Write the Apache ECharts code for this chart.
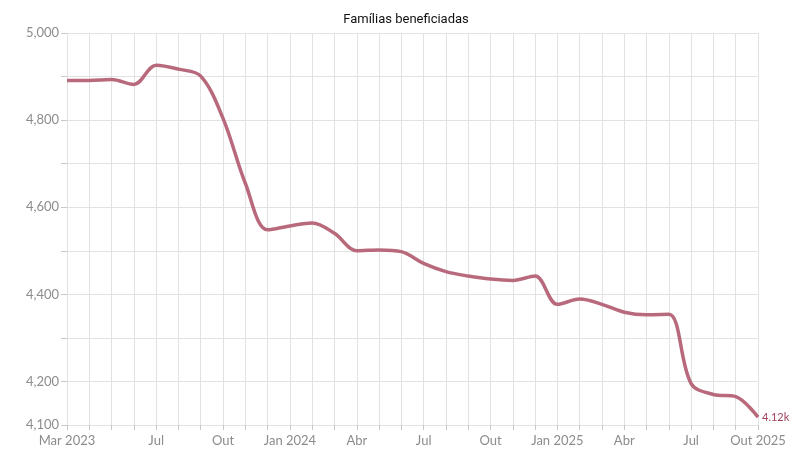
<!DOCTYPE html>
<html lang="pt">
<head>
<meta charset="UTF-8">
<title>Famílias beneficiadas</title>
<script src="https://cdn.jsdelivr.net/npm/echarts@6/dist/echarts.min.js"></script>
<style>
  html, body { margin: 0; padding: 0; background: #fff; }
  #main { width: 812px; height: 468px; }
</style>
</head>
<body>
<div id="main"></div>
<script>
// meses de Mar 2023 a Out 2025
var months = [
  'Mar 2023', 'Abr 2023', 'Mai 2023', 'Jun 2023', 'Jul 2023', 'Ago 2023', 'Set 2023', 'Out 2023', 'Nov 2023', 'Dez 2023',
  'Jan 2024', 'Fev 2024', 'Mar 2024', 'Abr 2024', 'Mai 2024', 'Jun 2024', 'Jul 2024', 'Ago 2024', 'Set 2024', 'Out 2024', 'Nov 2024', 'Dez 2024',
  'Jan 2025', 'Fev 2025', 'Mar 2025', 'Abr 2025', 'Mai 2025', 'Jun 2025', 'Jul 2025', 'Ago 2025', 'Set 2025', 'Out 2025'
];
var familias = [
  4891, 4891, 4893, 4882, 4926, 4917, 4901, 4804, 4655, 4548,
  4557, 4564, 4540, 4500, 4502, 4498, 4471, 4452, 4442, 4435, 4432, 4442,
  4377, 4389, 4377, 4359, 4353, 4354, 4195, 4170, 4165, 4118
];
var yTicksShown = [4100, 4200, 4400, 4600, 4800, 5000];

var myChart = echarts.init(document.getElementById('main'));
var lastIdx = months.length - 1;

var option = {
  backgroundColor: '#fff',
  animation: false,
  title: {
    text: 'Famílias beneficiadas',
    left: 'center',
    top: 8,
    textStyle: { fontFamily: 'Roboto', fontSize: 13, fontWeight: 'normal', color: '#111' }
  },
  grid: { left: 67, right: 54, top: 33, bottom: 43 },
  xAxis: {
    type: 'category',
    data: months,
    boundaryGap: false,
    axisLine: { show: true, lineStyle: { color: '#e2e2e2' } },
    axisTick: { show: true, interval: 0, length: 5, lineStyle: { color: '#c8c8c8' } },
    splitLine: { show: true, interval: 0, lineStyle: { color: '#e2e2e2', width: 1 } },
    axisLabel: {
      color: '#8c8c8c',
      fontFamily: 'Lato',
      fontSize: 13,
      margin: 9,
      showMinLabel: true,
      showMaxLabel: true,
      interval: function (i) { return i === 0 || i === lastIdx || (i >= 4 && (i - 1) % 3 === 0); },
      formatter: function (v, i) {
        if (i === 0 || i === lastIdx || v.indexOf('Jan') === 0) return v;
        return v.split(' ')[0];
      }
    }
  },
  yAxis: {
    type: 'value',
    min: 4100,
    max: 5000,
    interval: 100,
    axisLine: { show: true, lineStyle: { color: 'rgba(0,0,0,0)' } },
    axisTick: { show: true, length: 6, lineStyle: { color: '#c8c8c8' } },
    splitLine: { lineStyle: { color: '#e2e2e2', width: 1 } },
    axisLabel: {
      color: '#8c8c8c',
      fontFamily: 'Lato',
      fontSize: 13,
      margin: 8,
      formatter: function (v) {
        return yTicksShown.indexOf(v) >= 0 ? v.toLocaleString('en-US') : '';
      }
    }
  },
  series: [{
    name: 'Famílias beneficiadas',
    type: 'line',
    data: familias,
    smooth: 0.35,
    showSymbol: false,
    lineStyle: { color: '#b86a7c', width: 3.5 },
    endLabel: {
      show: true,
      color: '#a0425a',
      fontFamily: 'Lato',
      fontSize: 11,
      distance: 4,
      formatter: function (p) { return (p.value / 1000).toFixed(2) + 'k'; }
    }
  }]
};
myChart.setOption(option);
</script>
</body>
</html>
